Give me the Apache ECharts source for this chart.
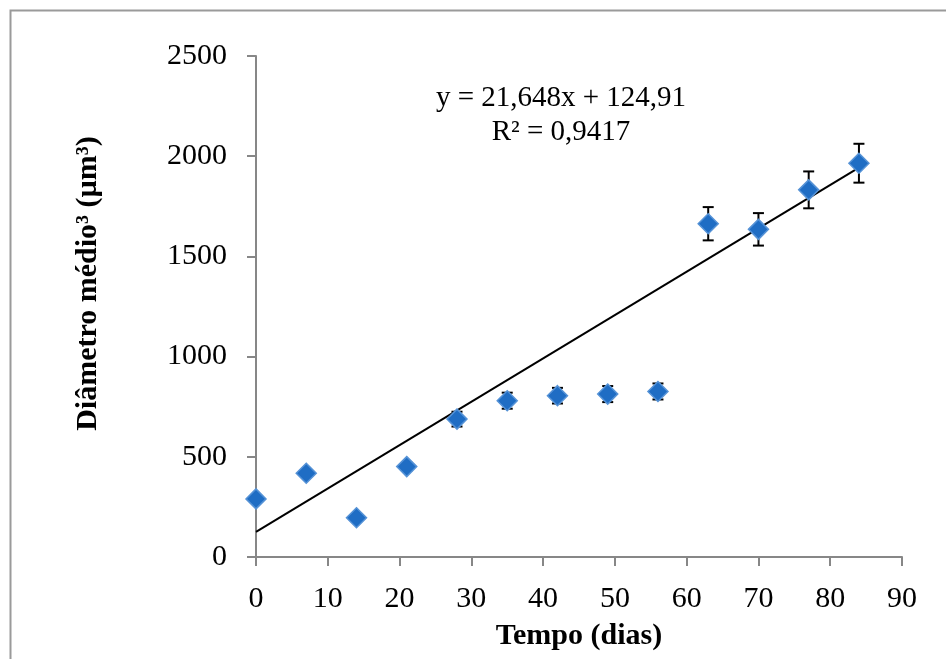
<!DOCTYPE html>
<html>
<head>
<meta charset="utf-8">
<script src="https://cdn.jsdelivr.net/npm/echarts@6/dist/echarts.min.js"></script>
<style>
html,body{margin:0;padding:0;background:#fff;}
#chart{width:946px;height:659px;}
</style>
</head>
<body>
<div id="chart"></div>
<script>
// Data
const days = [0, 7, 14, 21, 28, 35, 42, 49, 56, 63, 70, 77, 84];
const meanDiam3 = [290, 418, 196, 451, 688, 780, 805, 813, 826, 1663, 1635, 1832, 1965];
const errDiam3 = [15, 15, 10, 20, 37, 40, 39, 40, 40, 83, 81, 92, 97];
const trendSlope = 21.648;
const trendIntercept = 124.91;
const trendRange = [0, 84];
const equationText = 'y = 21,648x + 124,91';
const r2Text = 'R² = 0,9417';

const scatterData = days.map((d, i) => [d, meanDiam3[i]]);
const errorData = days.map((d, i) => [d, meanDiam3[i] - errDiam3[i], meanDiam3[i] + errDiam3[i]]);
const trendData = trendRange.map(x => [x, trendSlope * x + trendIntercept]);

const FONT = '"Liberation Serif", "Times New Roman", serif';
const chart = echarts.init(document.getElementById('chart'), null, {renderer: 'canvas'});
chart.setOption({
  animation: false,
  backgroundColor: '#ffffff',
  grid: {left: 256, right: 44, top: 56, bottom: 102, containLabel: false},
  xAxis: {
    type: 'value', min: 0, max: 90, interval: 10,
    name: 'Tempo (dias)', nameLocation: 'middle', nameGap: 64,
    nameTextStyle: {fontFamily: FONT, fontSize: 30, fontWeight: 'bold', color: '#000'},
    axisLine: {show: true, onZero: false, lineStyle: {color: '#878787', width: 2}},
    axisTick: {show: true, length: 9, lineStyle: {color: '#878787', width: 2}},
    axisLabel: {fontFamily: FONT, fontSize: 30, color: '#000', margin: 27, formatter: v => String(v)},
    splitLine: {show: false}
  },
  yAxis: {
    type: 'value', min: 0, max: 2500, interval: 500,
    name: 'Diâmetro médio³ (µm³)', nameLocation: 'middle', nameGap: 153,
    nameTextStyle: {fontFamily: FONT, fontSize: 30, fontWeight: 'bold', color: '#000', padding: [0, 0, 0, 46]},
    axisLine: {show: true, lineStyle: {color: '#878787', width: 2}},
    axisTick: {show: true, length: 9, lineStyle: {color: '#878787', width: 2}},
    axisLabel: {fontFamily: FONT, fontSize: 30, color: '#000', margin: 29, formatter: v => String(v)},
    splitLine: {show: false}
  },
  graphic: [
    {type: 'rect', left: 8, top: 8, z: -10, silent: true,
     shape: {width: 1000, height: 700}, style: {fill: 'none', stroke: '#9a9a9a', lineWidth: 2}},
    {type: 'text', x: 561, y: 98, z: 10,
     style: {text: equationText, fontFamily: FONT, fontSize: 29, fill: '#000', align: 'center', verticalAlign: 'middle'}},
    {type: 'text', x: 561, y: 132, z: 10,
     style: {text: r2Text, fontFamily: FONT, fontSize: 29, fill: '#000', align: 'center', verticalAlign: 'middle'}}
  ],
  series: [
    {
      name: 'Tendência', type: 'line', data: trendData, symbol: 'none', z: 2,
      lineStyle: {color: '#000', width: 2}, silent: true
    },
    {
      name: 'Erro', type: 'custom', z: 3,
      data: errorData,
      encode: {x: 0, y: [1, 2]},
      renderItem: function (params, api) {
        const x = api.value(0);
        const lo = api.coord([x, api.value(1)]);
        const hi = api.coord([x, api.value(2)]);
        const hw = 5.5;
        const st = {stroke: '#000', lineWidth: 2};
        return {
          type: 'group',
          children: [
            {type: 'line', shape: {x1: lo[0], y1: lo[1], x2: hi[0], y2: hi[1]}, style: st},
            {type: 'line', shape: {x1: lo[0] - hw, y1: lo[1], x2: lo[0] + hw, y2: lo[1]}, style: st},
            {type: 'line', shape: {x1: hi[0] - hw, y1: hi[1], x2: hi[0] + hw, y2: hi[1]}, style: st}
          ]
        };
      }
    },
    {
      name: 'Diâmetro médio³', type: 'scatter', data: scatterData, z: 4,
      symbol: 'diamond', symbolSize: [20, 20],
      itemStyle: {color: '#1f6dc4', borderColor: '#5592d6', borderWidth: 1.5, opacity: 1}
    }
  ]
});
</script>
</body>
</html>
